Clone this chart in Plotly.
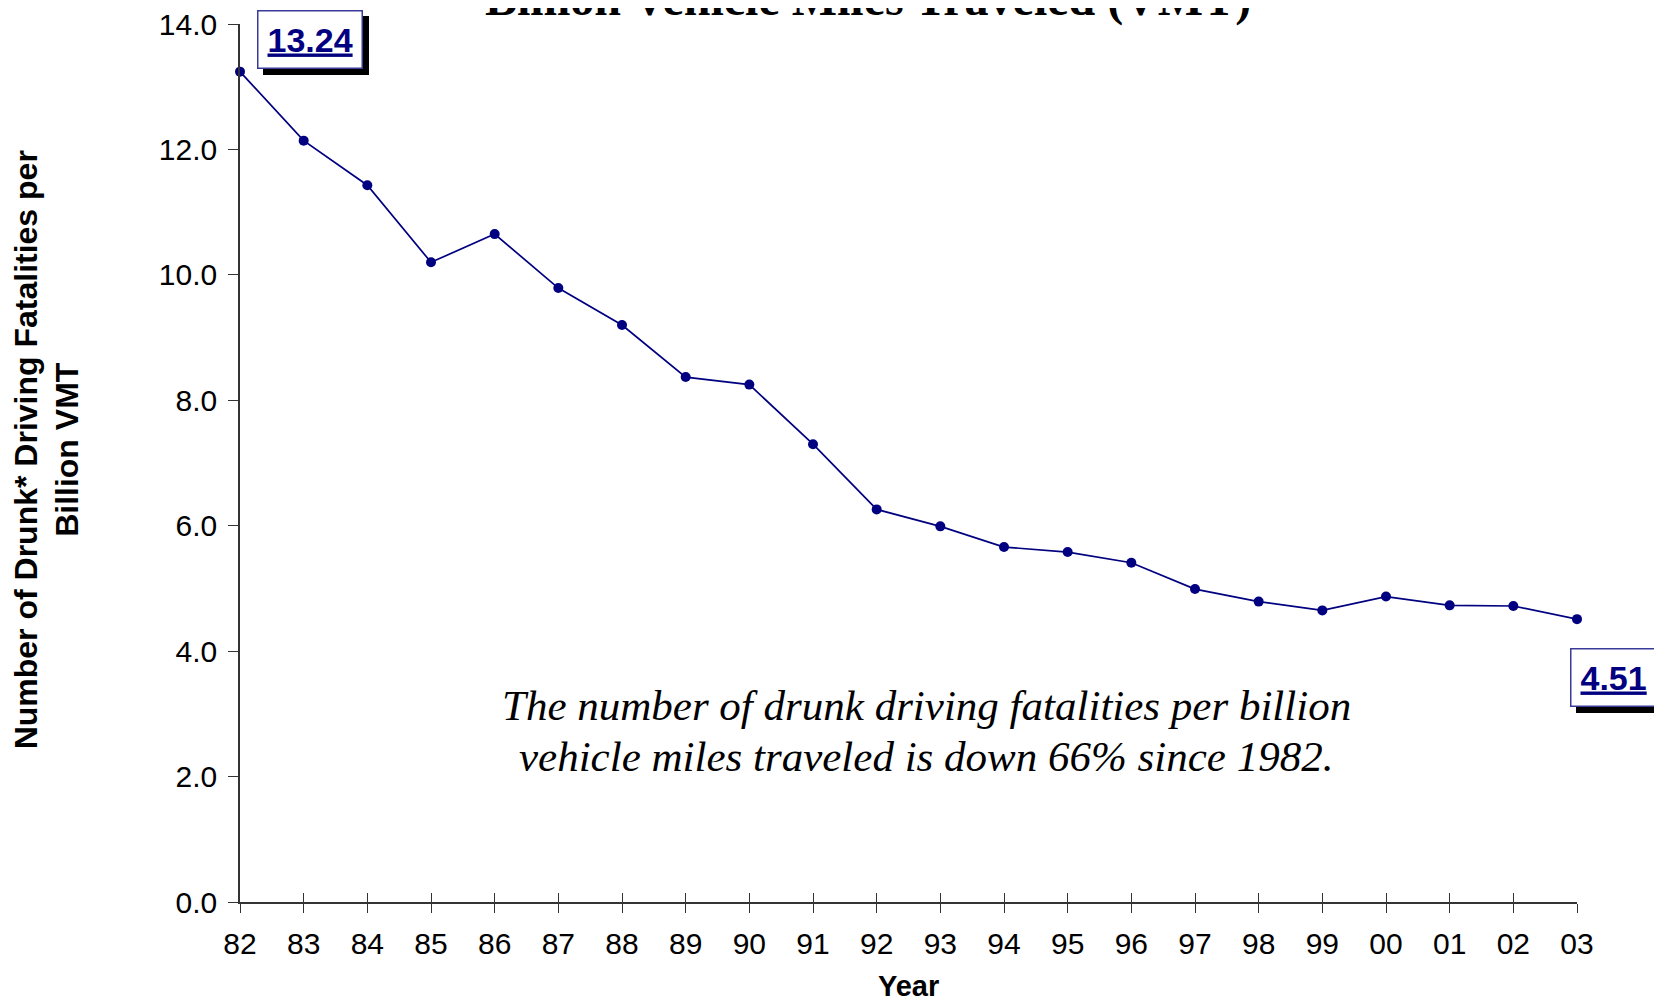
import plotly.graph_objects as go

years = ["82", "83", "84", "85", "86", "87", "88", "89", "90", "91", "92",
         "93", "94", "95", "96", "97", "98", "99", "00", "01", "02", "03"]
rates = [13.24, 12.14, 11.43, 10.20, 10.65, 9.79, 9.20, 8.37, 8.25, 7.30, 6.26,
         5.99, 5.66, 5.58, 5.41, 4.99, 4.79, 4.65, 4.87, 4.73, 4.72, 4.51]
y_ticks = [0, 2, 4, 6, 8, 10, 12, 14]
note_lines = ["The number of drunk driving fatalities per billion",
              "vehicle miles traveled is down 66% since 1982."]

NAVY = "#000080"
AXIS = "#333333"

fig = go.Figure()
fig.add_trace(go.Scatter(
    x=years, y=rates, mode="lines+markers",
    line=dict(color=NAVY, width=1.7),
    marker=dict(color=NAVY, size=10),
    cliponaxis=False, showlegend=False, hoverinfo="x+y",
))
# invisible trace to host the overlay axis (ticks drawn inside)
fig.add_trace(go.Scatter(
    x=years, y=rates, xaxis="x2", mode="lines",
    line=dict(color="rgba(0,0,0,0)"), showlegend=False, hoverinfo="skip",
))

fig.update_layout(
    width=1662, height=1000,
    margin=dict(l=232, r=93, t=16, b=106, autoexpand=False),
    paper_bgcolor="white", plot_bgcolor="white",
    font=dict(family="Arial, Liberation Sans, sans-serif", color="black"),
    xaxis=dict(
        type="category", range=[0, 21], showgrid=False, zeroline=False,
        showline=True, linecolor=AXIS, linewidth=1.5,
        ticks="outside", ticklen=9, tickcolor=AXIS, tickwidth=1,
        tickfont=dict(size=30, color="black"), ticklabelstandoff=5,
        ticklabeloverflow="allow",
    ),
    xaxis2=dict(
        type="category", range=[0, 21], overlaying="x", anchor="y",
        side="bottom", showgrid=False, zeroline=False, showline=False,
        ticks="inside", ticklen=9, tickcolor=AXIS, tickwidth=1,
        showticklabels=False,
    ),
    yaxis=dict(
        range=[0, 14], showgrid=False, zeroline=False,
        showline=True, linecolor=AXIS, linewidth=1.5,
        ticks="outside", ticklen=10, tickcolor=AXIS, tickwidth=1,
        tickvals=y_ticks, tickformat=".1f",
        tickfont=dict(size=30, color="black"), ticklabelstandoff=5,
        ticklabeloverflow="allow",
    ),
)

# Title (partially cut off at the top edge, as in the reference)
fig.add_annotation(
    text="<b>Billion Vehicle Miles Traveled (VMT)</b>",
    xref="paper", yref="paper", x=0.470, y=1.0290,
    xanchor="center", yanchor="middle", showarrow=False,
    font=dict(family="Times New Roman, Liberation Serif, serif", size=48, color="black"),
)

# Y axis title
fig.add_annotation(
    text="<b>Number of Drunk* Driving Fatalities per<br>Billion VMT</b>",
    xref="paper", yref="paper", x=-0.1447, y=0.515,
    xanchor="center", yanchor="middle", showarrow=False, textangle=-90,
    font=dict(size=32, color="black"),
)

# X axis title
fig.add_annotation(
    text="<b>Year</b>", xref="paper", yref="paper", x=0.5, y=-0.0957,
    xanchor="center", yanchor="middle", showarrow=False,
    font=dict(size=29, color="black"),
)

# Italic note (two lines)
for line, py in zip(note_lines, [705, 756]):
    fig.add_annotation(
        text="<i>%s</i>" % line,
        xref="paper", yref="paper", x=(926 - 240) / 1337, y=(902 - py) / 878,
        xanchor="center", yanchor="middle", showarrow=False,
        font=dict(family="Times New Roman, Liberation Serif, serif", size=43, color="black"),
    )

# Value callouts with drop shadow
def callout(idx, xs, ys):
    txt = "<b><u>%.2f</u></b>" % rates[idx]
    common = dict(xref="x", yref="y", x=idx, y=rates[idx], showarrow=False,
                  xanchor="center", yanchor="middle", borderpad=9, borderwidth=1.5)
    fig.add_annotation(text=txt, xshift=xs + 6, yshift=ys - 6,
                       bgcolor="black", bordercolor="black",
                       font=dict(size=34, color="black"), **common)
    fig.add_annotation(text=txt, xshift=xs, yshift=ys,
                       bgcolor="white", bordercolor="#3a3a9a",
                       font=dict(size=34, color=NAVY), **common)

callout(0, 70, 32)
callout(len(years) - 1, 36, -58)

fig.write_html("out.html")
